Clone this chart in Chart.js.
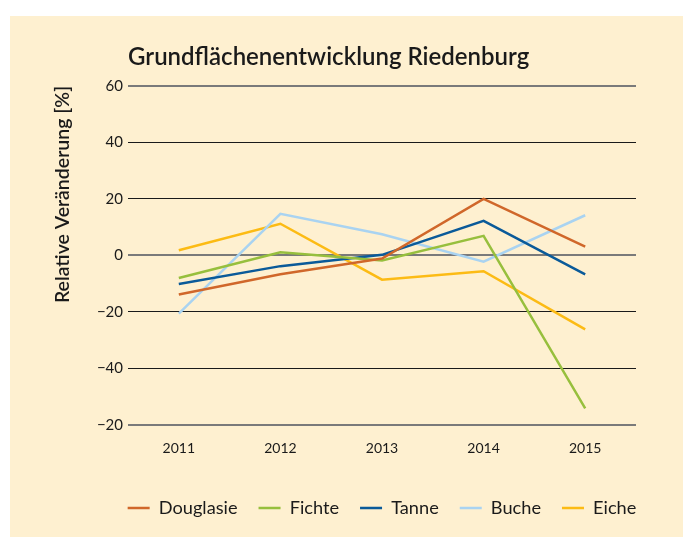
<!DOCTYPE html>
<html>
<head>
<meta charset="utf-8">
<script src="https://cdn.jsdelivr.net/npm/chart.js@4.4.0/dist/chart.umd.min.js"></script>
<style>
  body { margin: 0; background: #ffffff; }
  #box { position: absolute; left: 10px; top: 16px; width: 673px; height: 521px; background: #fef0d0; }
</style>
</head>
<body>
<div id="box"><canvas id="grund" width="673" height="521"></canvas></div>
<script>
var years = ['2011', '2012', '2013', '2014', '2015'];
var douglasie = [-13.8, -6.7, -1.1, 20.0, 3.1];
var fichte = [-8.0, 1.1, -1.8, 6.9, -54.1];
var tanne = [-10.1, -3.8, 0.2, 12.2, -6.7];
var buche = [-20.6, 14.7, 7.5, -2.2, 14.2];
var eiche = [1.8, 11.2, -8.6, -5.6, -26.2];

var yTickValues = [60, 40, 20, 0, -20, -40, -60];
var yTickText = ['60', '40', '20', '0', '\u221220', '\u221240', '\u221220'];

var fontName = 'Lato';

function line(label, data, color) {
  return {
    label: label,
    data: data,
    borderColor: color,
    backgroundColor: color,
    borderWidth: 2.5,
    pointRadius: 0,
    tension: 0,
    fill: false
  };
}

// legend sits centred under the plot area, not the whole canvas
var legendUnderPlot = {
  id: 'legendUnderPlot',
  afterLayout: function (chart) {
    var mid = (chart.chartArea.left + chart.chartArea.right) / 2;
    chart.legend.left = mid - 320;
    chart.legend.right = mid + 320;
  }
};

var ctx = document.getElementById('grund');
var chart = new Chart(ctx, {
  type: 'line',
  data: {
    labels: years,
    datasets: [
      line('Douglasie', douglasie, '#d0672a'),
      line('Fichte', fichte, '#97bf3d'),
      line('Tanne', tanne, '#0a5a99'),
      line('Buche', buche, '#a9d3f1'),
      line('Eiche', eiche, '#fcbb14')
    ]
  },
  plugins: [legendUnderPlot],
  options: {
    responsive: false,
    animation: false,
    layout: { padding: { left: 30, right: 47, top: 0, bottom: 10 } },
    plugins: {
      title: {
        display: true,
        text: 'Grundflächenentwicklung Riedenburg',
        align: 'start',
        fullSize: false,
        color: '#1a1a1a',
        font: { family: fontName, size: 24, weight: '600' },
        padding: { top: 27, bottom: 14 }
      },
      legend: {
        position: 'bottom',
        labels: {
          usePointStyle: true,
          pointStyle: 'line',
          pointStyleWidth: 22,
          padding: 21,
          color: '#1a1a1a',
          font: { family: fontName, size: 18.2 }
        }
      },
      tooltip: { enabled: false }
    },
    scales: {
      x: {
        offset: true,
        afterFit: function (scale) { scale.height = scale.height + 6; },
        grid: { display: false, drawTicks: false },
        border: { display: false },
        ticks: { color: '#1a1a1a', padding: 15, font: { family: fontName, size: 14 } }
      },
      y: {
        min: -60,
        max: 60,
        afterFit: function (scale) { scale.width = 88; },
        afterBuildTicks: function (scale) {
          scale.ticks = yTickValues.map(function (v) { return { value: v }; });
        },
        border: { display: false },
        grid: {
          drawTicks: false,
          color: function (c) {
            var v = c.tick ? c.tick.value : null;
            return (v === 60 || v === 0 || v === -60) ? '#7a7a7a' : '#1a1a1a';
          },
          lineWidth: function (c) {
            var v = c.tick ? c.tick.value : null;
            return (v === 60 || v === 0 || v === -60) ? 2 : 1;
          }
        },
        ticks: {
          color: '#1a1a1a',
          padding: 5,
          font: { family: fontName, size: 15 },
          callback: function (value) {
            return yTickText[yTickValues.indexOf(value)];
          }
        },
        title: {
          display: true,
          text: 'Relative Veränderung [%]',
          align: 'end',
          color: '#1a1a1a',
          font: { family: fontName, size: 19.5, weight: '600' },
          padding: { top: 11, bottom: 0 }
        }
      }
    }
  }
});
</script>
</body>
</html>
